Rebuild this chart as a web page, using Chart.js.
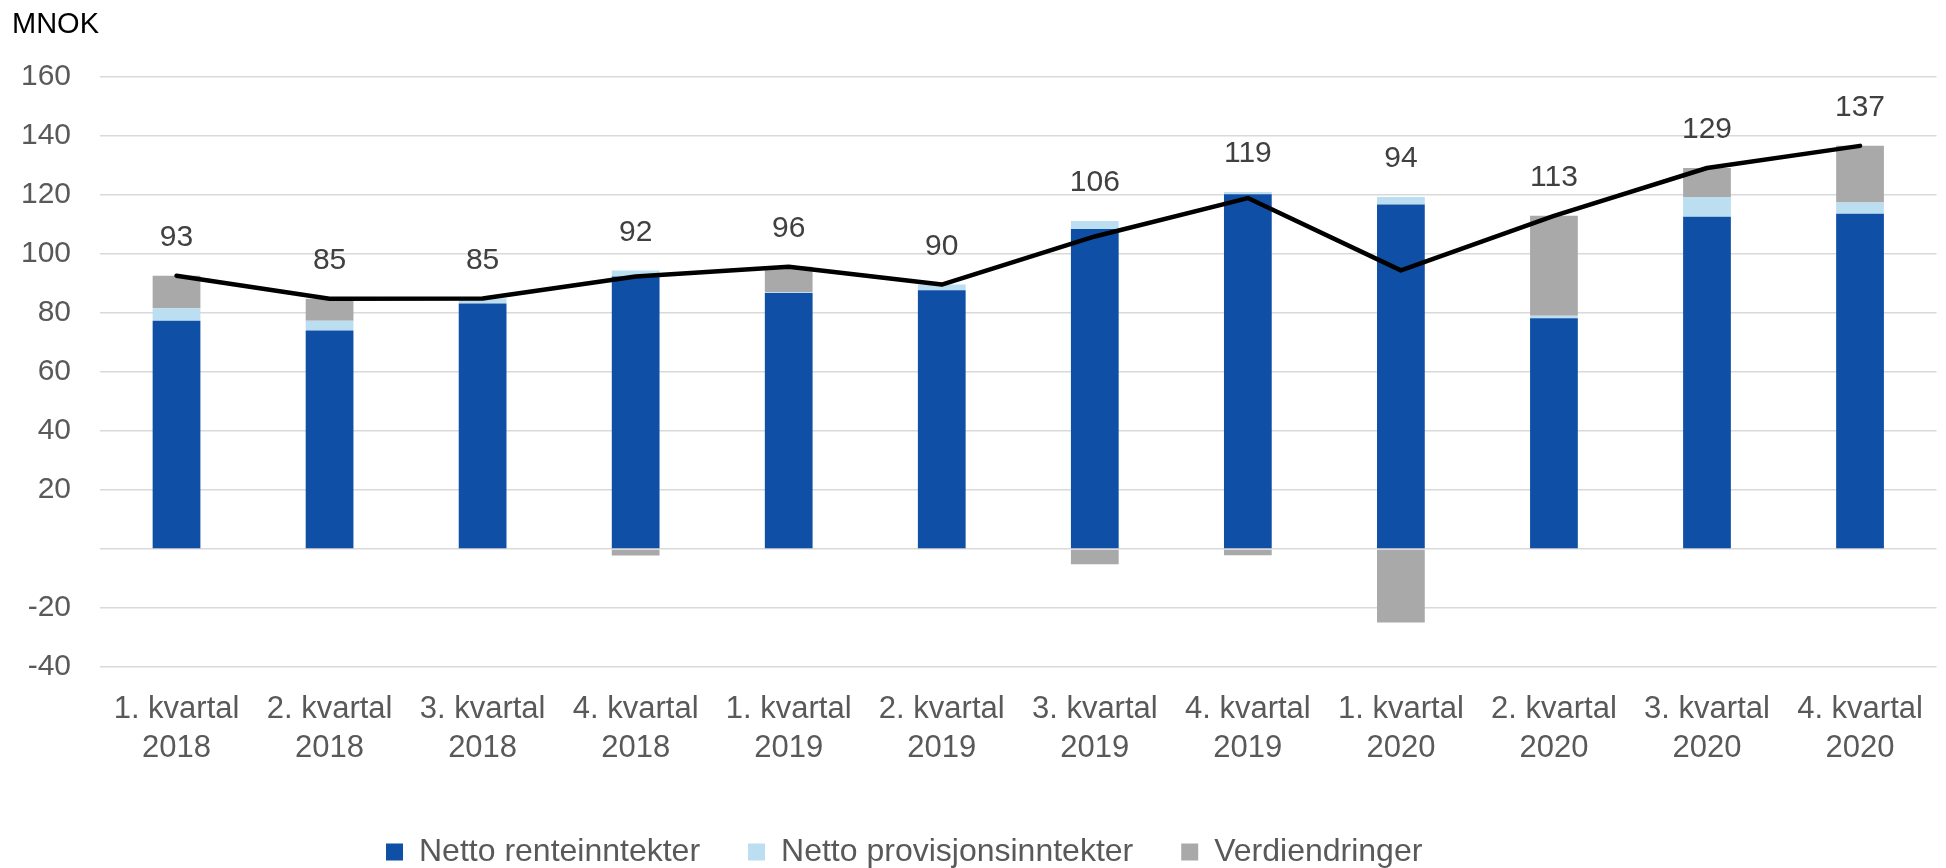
<!DOCTYPE html>
<html>
<head>
<meta charset="utf-8">
<script src="https://cdn.jsdelivr.net/npm/chart.js@4.4.1/dist/chart.umd.min.js"></script>
<style>
  html, body { margin: 0; padding: 0; background: #ffffff; }
  #wrap { position: relative; width: 1946px; height: 868px; }
</style>
</head>
<body>
<div id="wrap"><canvas id="c" width="1946" height="868"></canvas></div>
<script>
// ---- data ----
const categories = [
  ['1. kvartal', '2018'], ['2. kvartal', '2018'], ['3. kvartal', '2018'], ['4. kvartal', '2018'],
  ['1. kvartal', '2019'], ['2. kvartal', '2019'], ['3. kvartal', '2019'], ['4. kvartal', '2019'],
  ['1. kvartal', '2020'], ['2. kvartal', '2020'], ['3. kvartal', '2020'], ['4. kvartal', '2020']
];
const nettoRente = [77.3, 74.0, 83.2, 92.3, 86.7, 87.7, 108.4, 120.2, 116.7, 78.2, 112.6, 113.6];
const nettoProvisjon = [4.3, 3.3, 1.6, 2.1, 0.4, 1.9, 2.7, 0.8, 2.6, 0.8, 6.7, 3.8];
const verdiendringer = [11.0, 7.5, 0.1, -2.2, 8.5, 0.0, -5.2, -2.1, -24.9, 33.9, 9.8, 19.2];
const totalt = [92.6, 84.8, 84.9, 92.3, 95.6, 89.6, 105.9, 118.9, 94.4, 112.9, 129.1, 136.6];
const seriesNames = ['Netto renteinntekter', 'Netto provisjonsinntekter', 'Verdiendringer', 'Totalt'];
const yTicks = { min: -40, max: 160, step: 20 };
const unitLabel = 'MNOK';

const FONT = "'Liberation Sans', Arial, sans-serif";

const dataLabelPlugin = {
  id: 'totalLabels',
  afterDatasetsDraw(chart) {
    const ctx = chart.ctx;
    const x = chart.scales.x, y = chart.scales.y;
    ctx.save();
    ctx.font = '30px ' + FONT;
    ctx.fillStyle = '#404040';
    ctx.textAlign = 'center';
    ctx.textBaseline = 'middle';
    totalt.forEach((v, i) => {
      const stackTop = Math.max(0, nettoRente[i]) + Math.max(0, nettoProvisjon[i]) + Math.max(0, verdiendringer[i]);
      const top = Math.max(v, stackTop);
      ctx.fillText(String(Math.round(v)), x.getPixelForValue(i), y.getPixelForValue(top) - 38);
    });
    ctx.restore();
  }
};

const legendShift = {
  id: 'legendShift',
  afterLayout(chart) {
    const lg = chart.legend;
    if (!lg || !lg.lineWidths) return;
    const pad = lg.options.labels.padding;
    const start = ((lg.left + pad) + (lg.right - lg.lineWidths[0])) / 2;
    const delta = 386 - start;
    lg.left += delta;
    lg.right += delta;
    lg.top += 10;
    lg.bottom += 10;
  }
};

new Chart(document.getElementById('c'), {
  data: {
    labels: categories,
    datasets: [
      {
        type: 'line', label: seriesNames[3], data: totalt, stack: 'line',
        borderColor: '#000000', borderWidth: 4.5, pointRadius: 0, tension: 0,
        fill: false, order: 0, borderCapStyle: 'round', borderJoinStyle: 'round'
      },
      { type: 'bar', label: seriesNames[0], data: nettoRente, backgroundColor: '#0F4FA6', stack: 'bars', order: 1 },
      { type: 'bar', label: seriesNames[1], data: nettoProvisjon, backgroundColor: '#BBDEF0', stack: 'bars', order: 1 },
      { type: 'bar', label: seriesNames[2], data: verdiendringer, backgroundColor: '#A9A9A9', stack: 'bars', order: 1 }
    ]
  },
  options: {
    responsive: false,
    animation: false,
    devicePixelRatio: 1,
    datasets: { bar: { barPercentage: 1, categoryPercentage: 0.312, borderWidth: 0 } },
    layout: { padding: { left: 12, right: 2, top: 0, bottom: 0 } },
    plugins: {
      tooltip: { enabled: false },
      title: {
        display: true, text: unitLabel, align: 'start', color: '#000000',
        font: { family: FONT, size: 29, weight: 'normal' },
        padding: { top: 8, bottom: 34 }
      },
      legend: {
        position: 'bottom',
        labels: {
          filter: (item) => item.text !== seriesNames[3],
          boxWidth: 17, boxHeight: 17, padding: 48,
          color: '#595959',
          font: { family: FONT, size: 32 }
        }
      }
    },
    scales: {
      x: {
        stacked: true,
        afterFit: (s) => { s.height = 111; },
        grid: { display: false, drawTicks: false },
        border: { display: false },
        ticks: { color: '#595959', font: { family: FONT, size: 31, lineHeight: 1.26 }, padding: 23, maxRotation: 0, autoSkip: false }
      },
      y: {
        stacked: true,
        min: yTicks.min, max: yTicks.max,
        afterFit: (s) => { s.width = 88; },
        grid: { color: '#D9D9D9', lineWidth: 1.5, drawTicks: false },
        border: { display: false },
        ticks: {
          stepSize: yTicks.step, color: '#595959', padding: 29,
          font: { family: FONT, size: 30 },
          callback: (v) => (v === 0 ? '' : v)
        }
      }
    }
  },
  plugins: [dataLabelPlugin, legendShift]
});
</script>
</body>
</html>
